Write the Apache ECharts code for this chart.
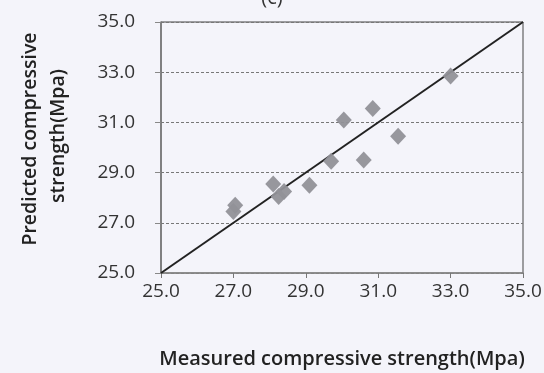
<!DOCTYPE html>
<html>
<head>
<meta charset="utf-8">
<style>
  html, body { margin: 0; padding: 0; background: #f4f4fa; }
  #chart { width: 544px; height: 373px; }
</style>
<script src="https://cdn.jsdelivr.net/npm/echarts@6/dist/echarts.min.js"></script>
</head>
<body>
<div id="chart"></div>
<script>
// Measured vs. predicted compressive strength (MPa)
const measured  = [27.0, 27.05, 28.1, 28.25, 28.4, 29.1, 29.7, 30.05, 30.6, 30.85, 31.55, 33.0];
const predicted = [27.45, 27.7, 28.55, 28.05, 28.25, 28.5, 29.45, 31.1, 29.5, 31.55, 30.45, 32.85];
// Line of equality y = x across the axis range
const equalityLine = [[25, 25], [35, 35]];
const axisMin = 25, axisMax = 35, axisStep = 2;

const font = '"Open Sans", "Noto Sans", sans-serif';
const points = measured.map((m, i) => [m, predicted[i]]);

const chart = echarts.init(document.getElementById('chart'));
chart.setOption({
  backgroundColor: '#f4f4fa',
  animation: false,
  title: {
    text: '(c)',
    left: 'center',
    top: -17,
    textStyle: { fontFamily: font, fontSize: 20, fontWeight: 'normal', color: '#333' }
  },
  grid: {
    left: 161, right: 21, top: 22, bottom: 100,
    outerBoundsMode: 'none',
    containLabel: false,
    show: true, borderColor: '#444', borderWidth: 1, backgroundColor: 'transparent'
  },
  xAxis: {
    type: 'value', min: axisMin, max: axisMax, interval: axisStep,
    name: 'Measured compressive strength(Mpa)',
    nameLocation: 'middle', nameGap: 76,
    nameTextStyle: { fontFamily: font, fontSize: 20, fontWeight: 600, color: '#222' },
    axisLine: { lineStyle: { color: '#888', width: 1.5 } },
    axisTick: { show: true, inside: false, length: 5, lineStyle: { color: '#777' } },
    axisLabel: {
      fontFamily: font, fontSize: 19, color: '#333', margin: 9,
      formatter: v => v.toFixed(1)
    },
    splitLine: { show: false }
  },
  yAxis: {
    type: 'value', min: axisMin, max: axisMax, interval: axisStep,
    axisLine: { show: true, lineStyle: { color: '#777', width: 1.5 } },
    axisTick: { show: true, length: 6, lineStyle: { color: '#888' } },
    axisLabel: {
      fontFamily: font, fontSize: 19, color: '#333', margin: 26,
      formatter: v => v.toFixed(1)
    },
    splitLine: { show: true, lineStyle: { color: '#777', type: [3, 2], width: 1 } }
  },
  graphic: [
    {
      type: 'text', x: 30, y: 139, rotation: Math.PI / 2,
      style: {
        text: 'Predicted compressive', fontFamily: font, fontSize: 19.5, fontWeight: 600,
        fill: '#222', align: 'center', verticalAlign: 'middle'
      }
    },
    {
      type: 'text', x: 58, y: 136, rotation: Math.PI / 2,
      style: {
        text: 'strength(Mpa)', fontFamily: font, fontSize: 19.5, fontWeight: 600,
        fill: '#222', align: 'center', verticalAlign: 'middle'
      }
    }
  ],
  series: [
    {
      type: 'line',
      data: equalityLine,
      symbol: 'none',
      lineStyle: { color: '#222', width: 2 },
      z: 3
    },
    {
      type: 'scatter',
      data: points,
      symbol: 'diamond',
      symbolSize: [16, 17],
      itemStyle: { color: '#919198', opacity: 0.95 },
      z: 4
    }
  ]
});
</script>
</body>
</html>
